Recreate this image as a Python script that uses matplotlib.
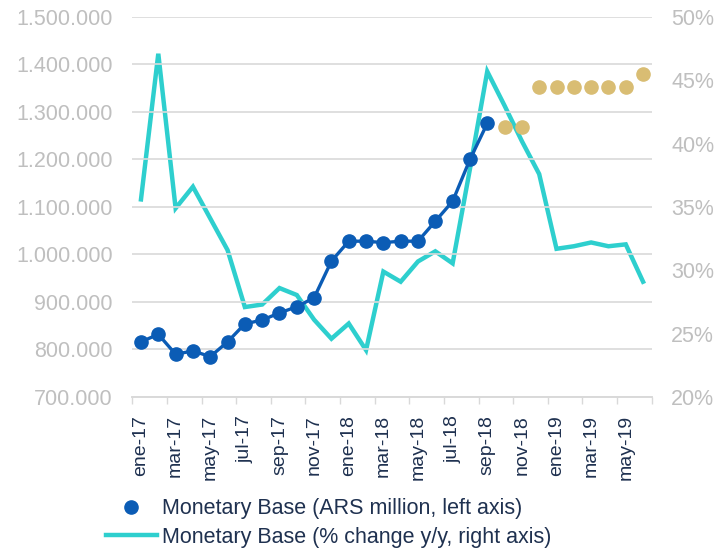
import matplotlib.pyplot as plt
from matplotlib.lines import Line2D
from matplotlib.ticker import FuncFormatter

plt.rcParams['font.family'] = ['Liberation Sans', 'DejaVu Sans']

# meses ene-17 .. jun-19
months = ['ene', 'feb', 'mar', 'abr', 'may', 'jun', 'jul', 'ago', 'sep', 'oct', 'nov', 'dic']
cats = [m + '-' + y for y in ['17', '18', '19'] for m in months][:30]

# base monetaria, millones ARS (eje izq.)
base = [816000, 832000, 790000, 797000, 785000, 816000, 854000, 862000, 877000, 890000,
        909000, 986000, 1028000, 1028000, 1025000, 1028000, 1028000, 1070000, 1112000,
        1200000, 1276000]
# meta (puntos dorados)
meta_idx = [21, 22, 23, 24, 25, 26, 27, 28, 29]
meta = [1269000, 1269000, 1353000, 1353000, 1353000, 1353000, 1353000, 1353000, 1381000]
# variacion % interanual (eje der.)
yoy = [35.6, 47.1, 34.9, 36.6, 34.1, 31.6, 27.1, 27.3, 28.6, 28.05,
       26.1, 24.6, 25.8, 23.7, 29.9, 29.1, 30.7, 31.5, 30.55, 38.0,
       45.7, 43.0, 40.2, 37.6, 31.7, 31.9, 32.2, 31.9, 32.05, 29.1]

blue = '#0b5cb5'
cyan = '#2ecfce'
gold = '#d9bd73'
gray = '#bfbfbf'
navy = '#1f3150'

fig = plt.figure(figsize=(7.18, 5.5), dpi=100)
ax = fig.add_axes([0.1843, 0.2782, 0.7234, 0.6909])
ax2 = ax.twinx()

x = list(range(len(cats)))
ax.plot(x[:len(base)], base, color=blue, lw=2.4, marker='o', ms=9.5, zorder=4)
ax.plot(meta_idx, meta, ls='none', marker='o', ms=9.5, color=gold, zorder=4)
ax2.plot(x, yoy, color=cyan, lw=3.2, solid_joinstyle='miter', zorder=3)

ax.set_zorder(ax2.get_zorder() + 1)
ax.patch.set_visible(False)

ax.set_ylim(700000, 1500000)
ax.set_yticks(range(700000, 1500001, 100000))
ax.yaxis.set_major_formatter(FuncFormatter(lambda v, p: f'{int(v):,}'.replace(',', '.')))
ax2.set_ylim(20, 50)
ax2.set_yticks(range(20, 51, 5))
ax2.yaxis.set_major_formatter(FuncFormatter(lambda v, p: f'{int(v)}%'))

ax.set_xlim(-0.5, 29.5)
ax.set_xticks(x[::2])
ax.set_xticklabels(cats[::2], rotation=90, color=navy, fontsize=14)
ax.set_xticks([i - 0.5 for i in range(0, 31, 2)], minor=True)
ax.tick_params(axis='x', which='major', length=0, pad=13)
ax.tick_params(axis='x', which='minor', length=5, width=1, color='#d9d9d9')

ax.tick_params(axis='y', length=0, pad=14, labelsize=15.5, labelcolor=gray)
ax2.tick_params(axis='y', length=0, pad=14, labelsize=15.5, labelcolor=gray)

ax.grid(axis='y', color='#d9d9d9', lw=1.2)
ax.set_axisbelow(True)
for a in (ax, ax2):
    for s in ('left', 'right', 'top'):
        a.spines[s].set_visible(False)
    a.spines['bottom'].set_color('#d9d9d9')
    a.spines['bottom'].set_linewidth(1.2)

handles = [Line2D([], [], ls='none', marker='o', ms=9.5, color=blue),
           Line2D([], [], color=cyan, lw=3.2)]
labels = ['Monetary Base (ARS million, left axis)',
          'Monetary Base (% change y/y, right axis)']
fig.legend(handles, labels, loc='upper left', bbox_to_anchor=(0.147, 0.094),
           frameon=False, fontsize=15.5, labelcolor=navy, handlelength=2.4,
           handletextpad=0.2, labelspacing=0.34, borderpad=0, borderaxespad=0)

fig.savefig('out.png', dpi=100)
